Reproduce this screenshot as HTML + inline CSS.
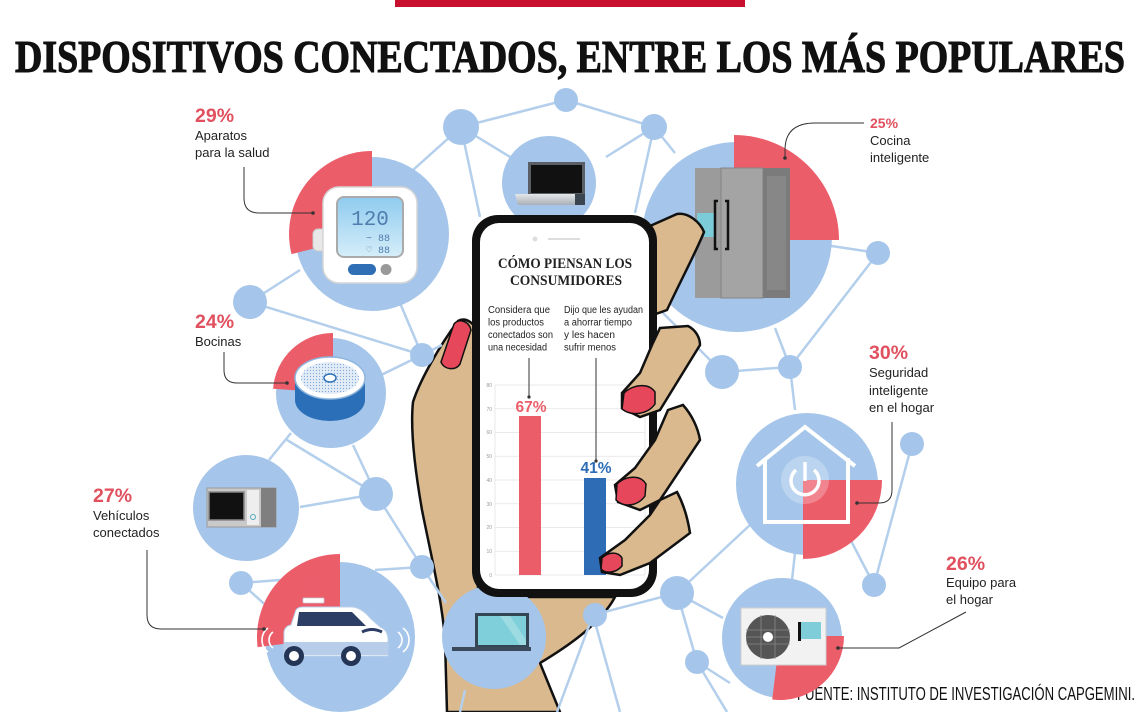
<!DOCTYPE html>
<html><head><meta charset="utf-8"><style>
html,body{margin:0;padding:0;background:#fff;}
svg{display:block;}
</style></head><body>
<svg width="1140" height="712" viewBox="0 0 1140 712" xmlns="http://www.w3.org/2000/svg">
<defs>
<pattern id="dots" width="3" height="3" patternUnits="userSpaceOnUse"><circle cx="1.5" cy="1.5" r="0.6" fill="#7ea7d6"/></pattern>
<linearGradient id="scr" x1="0" y1="0" x2="0" y2="1"><stop offset="0" stop-color="#8fcbef"/><stop offset="1" stop-color="#d6eef9"/></linearGradient>
<linearGradient id="base" x1="0" y1="0" x2="0" y2="1"><stop offset="0" stop-color="#e4e7ea"/><stop offset="1" stop-color="#a9afb5"/></linearGradient>
</defs>
<rect width="1140" height="712" fill="#fff"/>
<rect x="395" y="0" width="350" height="7" fill="#c8102e"/>
<text x="15" y="72" font-family="Liberation Serif, serif" font-weight="bold" font-size="46" textLength="1110" lengthAdjust="spacingAndGlyphs" fill="#111" stroke="#111" stroke-width="1.1">DISPOSITIVOS CONECTADOS, ENTRE LOS MÁS POPULARES</text>

<!-- source text (under AC circle) -->
<text x="797" y="700" font-family="Liberation Sans Narrow, Liberation Sans, sans-serif" font-size="18" textLength="338" lengthAdjust="spacingAndGlyphs" fill="#111">FUENTE: INSTITUTO DE INVESTIGACIÓN CAPGEMINI.</text>

<!-- palm + thumb -->
<path d="M447 712 L445 640 C442 600 432 560 422 510 C415 470 410 430 413 402 C420 380 440 345 458 321 C465 317 472 322 478 330 L478 597 L615 597 C600 625 565 648 540 663 L560 712 Z" fill="#d9b98d" stroke="#111" stroke-width="2.5"/>
<path d="M454 324 C459 318 469 321 471 330 L460 364 C456 371 444 370 441 362 Z" fill="#e6475a" stroke="#111" stroke-width="1.5"/>

<!-- network lines -->
<g stroke="#b4cfec" stroke-width="2.5" fill="none">
<line x1="461" y1="127" x2="566" y2="100"/>
<line x1="566" y1="100" x2="654" y2="127"/>
<line x1="461" y1="127" x2="413" y2="170"/>
<line x1="461" y1="127" x2="515" y2="160"/>
<line x1="461" y1="127" x2="480" y2="217"/>
<line x1="654" y1="127" x2="606" y2="157"/>
<line x1="654" y1="127" x2="635" y2="213"/>
<line x1="654" y1="127" x2="675" y2="153"/>
<line x1="250" y1="302" x2="300" y2="270"/>
<line x1="250" y1="302" x2="422" y2="355"/>
<line x1="422" y1="355" x2="400" y2="303"/>
<line x1="422" y1="355" x2="442" y2="345"/>
<line x1="422" y1="355" x2="375" y2="378"/>
<line x1="291" y1="433" x2="269" y2="460"/>
<line x1="287" y1="440" x2="376" y2="494"/>
<line x1="353" y1="445" x2="376" y2="494"/>
<line x1="300" y1="507" x2="376" y2="494"/>
<line x1="376" y1="494" x2="422" y2="567"/>
<line x1="375" y1="570" x2="422" y2="567"/>
<line x1="422" y1="567" x2="446" y2="603"/>
<line x1="241" y1="583" x2="280" y2="580"/>
<line x1="241" y1="583" x2="271" y2="610"/>
<line x1="465" y1="690" x2="460" y2="712"/>
<line x1="593" y1="615" x2="557" y2="712"/>
<line x1="593" y1="615" x2="620" y2="712"/>
<line x1="593" y1="615" x2="677" y2="593"/>
<line x1="677" y1="593" x2="697" y2="662"/>
<line x1="677" y1="593" x2="723" y2="618"/>
<line x1="697" y1="662" x2="730" y2="683"/>
<line x1="697" y1="662" x2="727" y2="712"/>
<line x1="750" y1="525" x2="677" y2="593"/>
<line x1="847" y1="533" x2="874" y2="585"/>
<line x1="912" y1="444" x2="874" y2="585"/>
<line x1="795" y1="553" x2="792" y2="580"/>
<line x1="790" y1="367" x2="795" y2="410"/>
<line x1="722" y1="372" x2="790" y2="367"/>
<line x1="790" y1="367" x2="878" y2="253"/>
<line x1="775" y1="328" x2="790" y2="367"/>
<line x1="825" y1="245" x2="878" y2="253"/>
<line x1="660" y1="310" x2="722" y2="372"/>
</g>

<!-- big circles -->
<g fill="#a5c6ea">
<circle cx="372" cy="234" r="77"/>
<circle cx="549" cy="183" r="47"/>
<circle cx="737" cy="237" r="95"/>
<circle cx="331" cy="393" r="55"/>
<circle cx="246" cy="508" r="53"/>
<circle cx="340" cy="637" r="75"/>
<circle cx="494" cy="637" r="52"/>
<circle cx="807" cy="484" r="71"/>
<circle cx="782" cy="638" r="60"/>
<!-- nodes -->
<circle cx="461" cy="127" r="18"/>
<circle cx="566" cy="100" r="12"/>
<circle cx="654" cy="127" r="13"/>
<circle cx="250" cy="302" r="17"/>
<circle cx="422" cy="355" r="12"/>
<circle cx="376" cy="494" r="17"/>
<circle cx="422" cy="567" r="12"/>
<circle cx="241" cy="583" r="12"/>
<circle cx="878" cy="253" r="12"/>
<circle cx="722" cy="372" r="17"/>
<circle cx="790" cy="367" r="12"/>
<circle cx="912" cy="444" r="12"/>
<circle cx="874" cy="585" r="12"/>
<circle cx="677" cy="593" r="17"/>
<circle cx="595" cy="615" r="12"/>
<circle cx="697" cy="662" r="12"/>
</g>

<!-- red sectors -->
<g fill="#ec5d6a">
<path d="M372 234 L291.5 254.1 A83 83 0 0 1 372 151 Z"/>
<path d="M734 240 L734 135 A105 105 0 0 1 839 240 Z"/>
<path d="M333 393 L273.1 388.8 A60 60 0 0 1 333 333 Z"/>
<path d="M340 637 L257.6 647.1 A83 83 0 0 1 340 554 Z"/>
<path d="M803 480 L882 480 A79 79 0 0 1 803 559 Z"/>
<path d="M780 636 L844 636 A64 64 0 0 1 772.2 699.5 Z"/>
</g>

<!-- BP monitor -->
<rect x="313" y="229" width="14" height="22" rx="5" fill="#e8e8e8" stroke="#ccc"/>
<rect x="323" y="187" width="94" height="96" rx="16" fill="#fff" stroke="#d5d5d5" stroke-width="1.5"/>
<rect x="337" y="197" width="66" height="60" rx="7" fill="url(#scr)" stroke="#aaa" stroke-width="2"/>
<text x="370" y="225" text-anchor="middle" font-family="Liberation Mono, monospace" font-size="21" fill="#4f7dae">120</text>
<text x="378" y="241" text-anchor="middle" font-family="Liberation Mono, monospace" font-size="10" fill="#4f7dae">~ 88</text>
<text x="378" y="253" text-anchor="middle" font-family="Liberation Mono, monospace" font-size="10" fill="#4f7dae">♡ 88</text>
<rect x="348" y="264" width="28" height="11" rx="5.5" fill="#2f6eb5"/>
<circle cx="386" cy="269.5" r="5.5" fill="#999"/>

<!-- laptop top -->
<rect x="528" y="162" width="57" height="33" fill="#5a5f66"/>
<rect x="531" y="165" width="51" height="28" fill="#111"/>
<polygon points="515,194 585,194 585,205 518,205" fill="url(#base)"/>
<rect x="575" y="194" width="10" height="11" fill="#3a4550"/>

<!-- fridge -->
<rect x="695" y="168" width="95" height="130" fill="#9b9b9b"/>
<rect x="721" y="168" width="42" height="130" fill="#a4a4a4" stroke="#858585" stroke-width="1"/>
<rect x="763" y="168" width="27" height="130" fill="#7b7b7b"/>
<rect x="767" y="176" width="19" height="114" fill="#878787"/>
<rect x="697" y="213" width="17" height="24" fill="#7ccbd8"/>
<path d="M718 201 L715 201 L715 249 L718 249 M725 201 L728 201 L728 249 L725 249" stroke="#111" stroke-width="2.5" fill="none"/>

<!-- speaker -->
<path d="M295 378 L295 400 A35 21 0 0 0 365 400 L365 378 Z" fill="#2a6fb8"/>
<ellipse cx="330" cy="378" rx="35" ry="21" fill="#fff" stroke="#8db5de" stroke-width="1.5"/>
<ellipse cx="330" cy="378" rx="29" ry="16" fill="#e2ecf7"/>
<ellipse cx="330" cy="378" rx="29" ry="16" fill="url(#dots)"/>
<ellipse cx="330" cy="378" rx="6" ry="4" fill="#fff" stroke="#2a6fb8" stroke-width="1.5"/>

<!-- microwave -->
<rect x="207" y="488" width="69" height="39" fill="#c9c9c9" stroke="#999"/>
<rect x="209" y="492" width="35" height="28" fill="#111" stroke="#888" stroke-width="1.5"/>
<rect x="247" y="490" width="12" height="35" fill="#eee"/>
<rect x="261" y="488" width="15" height="39" fill="#7f7f7f"/>
<circle cx="253" cy="517" r="2.5" fill="none" stroke="#5ab" stroke-width="1"/>

<!-- car -->
<g fill="none" stroke="#ec5d6a" stroke-width="1.6">
<path d="M308 596 A5 5 0 0 1 318 596"/><path d="M304 594 A9 9 0 0 1 322 594"/><path d="M300 592 A13 13 0 0 1 326 592"/>
</g>
<rect x="303" y="598" width="21" height="5" rx="1" fill="#fff" stroke="#ccd" stroke-width="0.8"/>
<path d="M284 650 L284 632 Q285 626 291 625 L296 610 Q298 607 303 607 L352 607 Q362 608 370 618 L380 627 Q388 630 388 640 L388 656 L284 656 Z" fill="#fff" stroke="#bcd0ea" stroke-width="1"/>
<polygon points="299,612 352,612 366,626 297,626" fill="#2c3e66"/>
<rect x="284" y="642" width="104" height="13" fill="#b7cdea"/>
<path d="M362 632 Q372 627 382 632" stroke="#2c3e66" stroke-width="3" fill="none"/>
<circle cx="294" cy="656" r="10" fill="#243556"/><circle cx="294" cy="656" r="5" fill="#fff"/>
<circle cx="351" cy="656" r="10" fill="#243556"/><circle cx="351" cy="656" r="5" fill="#fff"/>
<g fill="none" stroke="#fff" stroke-width="1.6">
<path d="M273 632 A10 10 0 0 0 273 648"/><path d="M268 628 A15 15 0 0 0 268 652"/>
<path d="M398 632 A10 10 0 0 1 398 648"/><path d="M403 628 A15 15 0 0 1 403 652"/>
</g>

<!-- laptop bottom -->
<rect x="475" y="613" width="54" height="34" fill="#344654"/>
<rect x="478" y="616" width="48" height="29" fill="#7ecfd9"/>
<polygon points="500,616 510,616 526,640 526,645 520,645" fill="#9ddbe3"/>
<rect x="452" y="647" width="79" height="4" fill="#3a4a5a"/>

<!-- security -->
<circle cx="805" cy="480" r="24" fill="#fff" opacity="0.25"/>
<path d="M757 466 L805 427 L855 466 M765 458 L765 522 L848 522 L848 458" stroke="#fff" stroke-width="4" fill="none"/>
<path d="M796 470 A14 14 0 1 0 814 470" stroke="#fff" stroke-width="3.5" fill="none"/>
<line x1="805" y1="462" x2="805" y2="481" stroke="#fff" stroke-width="3.5"/>

<!-- AC -->
<rect x="741" y="608" width="85" height="57" fill="#f2f2f2" stroke="#cfcfcf"/>
<circle cx="768" cy="637" r="22" fill="#555"/>
<g stroke="#888" stroke-width="0.8"><line x1="746" y1="630" x2="790" y2="630"/><line x1="746" y1="637" x2="790" y2="637"/><line x1="746" y1="644" x2="790" y2="644"/><line x1="761" y1="615" x2="761" y2="659"/><line x1="775" y1="615" x2="775" y2="659"/></g>
<circle cx="768" cy="637" r="5" fill="#fff"/>
<rect x="798" y="622" width="23" height="17" fill="#7fcdd8"/>
<rect x="798" y="622" width="3" height="19" fill="#111"/>

<!-- index finger (behind phone) -->
<path d="M650 226 L677 214 C688 212 700 222 704 232 C697 250 680 282 667 310 L650 316 Z" fill="#d9b98d" stroke="#111" stroke-width="2.5"/>

<!-- phone -->
<rect x="472" y="215" width="185" height="382" rx="26" fill="#111"/>
<rect x="480" y="223" width="169" height="366" rx="19" fill="#fff"/>
<circle cx="535" cy="239" r="2.5" fill="#ddd"/>
<line x1="548" y1="239" x2="580" y2="239" stroke="#ddd" stroke-width="2"/>
<text x="565" y="268" text-anchor="middle" font-family="Liberation Serif, serif" font-weight="bold" font-size="14.5" textLength="134" lengthAdjust="spacingAndGlyphs" fill="#222">CÓMO PIENSAN LOS</text>
<text x="566" y="285" text-anchor="middle" font-family="Liberation Serif, serif" font-weight="bold" font-size="14.5" textLength="112" lengthAdjust="spacingAndGlyphs" fill="#222">CONSUMIDORES</text>
<g font-family="Liberation Sans, sans-serif" font-size="10" fill="#222">
<text x="488" y="313" textLength="62" lengthAdjust="spacingAndGlyphs">Considera que</text>
<text x="488" y="325.5" textLength="56" lengthAdjust="spacingAndGlyphs">los productos</text>
<text x="488" y="338" textLength="65" lengthAdjust="spacingAndGlyphs">conectados son</text>
<text x="488" y="350.5" textLength="59" lengthAdjust="spacingAndGlyphs">una necesidad</text>
<text x="564" y="313" textLength="79" lengthAdjust="spacingAndGlyphs">Dijo que les ayudan</text>
<text x="564" y="325.5" textLength="68" lengthAdjust="spacingAndGlyphs">a ahorrar tiempo</text>
<text x="564" y="338" textLength="51" lengthAdjust="spacingAndGlyphs">y les hacen</text>
<text x="564" y="350.5" textLength="52" lengthAdjust="spacingAndGlyphs">sufrir menos</text>
</g>
<g stroke="#e3e3e3" stroke-width="0.8">
<line x1="495" y1="385" x2="645" y2="385"/><line x1="495" y1="408.75" x2="645" y2="408.75"/><line x1="495" y1="432.5" x2="645" y2="432.5"/><line x1="495" y1="456.25" x2="645" y2="456.25"/><line x1="495" y1="480" x2="645" y2="480"/><line x1="495" y1="503.75" x2="645" y2="503.75"/><line x1="495" y1="527.5" x2="645" y2="527.5"/><line x1="495" y1="551.25" x2="645" y2="551.25"/><line x1="495" y1="575" x2="645" y2="575"/>
<line x1="495" y1="385" x2="495" y2="575"/><line x1="645" y1="385" x2="645" y2="575"/>
</g>
<g font-family="Liberation Sans, sans-serif" font-size="5" fill="#999" text-anchor="end">
<text x="492" y="387">80</text><text x="492" y="411">70</text><text x="492" y="434">60</text><text x="492" y="458">50</text><text x="492" y="482">40</text><text x="492" y="506">30</text><text x="492" y="529">20</text><text x="492" y="553">10</text><text x="492" y="577">0</text>
</g>
<rect x="519" y="416" width="22" height="159" fill="#ec5d6a"/>
<rect x="584" y="478" width="22" height="97" fill="#2e6db5"/>
<line x1="529" y1="358" x2="529" y2="397" stroke="#333" stroke-width="1"/><circle cx="529" cy="397" r="1.6" fill="#333"/>
<line x1="596" y1="358" x2="596" y2="461" stroke="#333" stroke-width="1"/><circle cx="596" cy="461" r="1.6" fill="#333"/>
<text x="531" y="412" text-anchor="middle" font-family="Liberation Sans, sans-serif" font-weight="bold" font-size="15.5" fill="#ec5d6a">67%</text>
<text x="596" y="473" text-anchor="middle" font-family="Liberation Sans, sans-serif" font-weight="bold" font-size="15.5" fill="#2e6db5">41%</text>

<!-- fingers over phone -->
<g fill="#d9b98d" stroke="#111" stroke-width="2.5">
<path d="M660 328 L688 326 C696 330 700 338 700 345 L660 410 L640 417 L622 408 L622 393 L640 373 L652 345 Z"/>
<path d="M668 410 L683 405 C692 415 698 428 700 440 L660 500 L640 510 L618 502 L615 485 L635 468 L655 440 Z"/>
<path d="M660 500 L677 492 C684 505 688 520 690 533 L650 563 L620 575 L602 572 L600 558 L625 540 L650 515 Z"/>
</g>
<g fill="#e6475a" stroke="#111" stroke-width="1.5">
<path d="M624 393 C632 385 648 382 655 392 L655 404 C648 414 632 417 622 409 Z"/>
<path d="M617 484 C625 476 640 474 646 484 L645 496 C638 506 624 508 616 500 Z"/>
<path d="M602 558 C608 552 618 551 622 558 L622 566 C616 573 606 574 601 569 Z"/>
</g>

<!-- leader lines -->
<g stroke="#333" stroke-width="1" fill="none">
<path d="M244 167 L244 198 Q244 213 259 213 L313 213"/>
<path d="M224 352 L224 370 Q224 383 237 383 L287 383"/>
<path d="M147 550 L147 615 Q147 629 161 629 L264 629"/>
<path d="M864 123 L815 123 Q785 123 785 150 L785 158"/>
<path d="M892 422 L892 490 Q892 503 879 503 L857 503"/>
<path d="M966 612 L899 648 L838 648"/>
</g>
<g fill="#333">
<circle cx="313" cy="213" r="1.8"/><circle cx="287" cy="383" r="1.8"/><circle cx="264" cy="629" r="1.8"/><circle cx="785" cy="158" r="1.8"/><circle cx="857" cy="503" r="1.8"/><circle cx="838" cy="648" r="1.8"/>
</g>

<!-- labels -->
<g font-family="Liberation Sans, sans-serif" font-weight="bold" fill="#e0505e">
<text x="195" y="122" font-size="19.5">29%</text>
<text x="195" y="328" font-size="19.5">24%</text>
<text x="93" y="502" font-size="19.5">27%</text>
<text x="870" y="128" font-size="14">25%</text>
<text x="869" y="359" font-size="19.5">30%</text>
<text x="946" y="570" font-size="19.5">26%</text>
</g>
<g font-family="Liberation Sans, sans-serif" font-size="13" fill="#222">
<text x="195" y="140">Aparatos</text>
<text x="195" y="157">para la salud</text>
<text x="195" y="346">Bocinas</text>
<text x="93" y="520">Vehículos</text>
<text x="93" y="537">conectados</text>
<text x="870" y="145">Cocina</text>
<text x="870" y="162">inteligente</text>
<text x="869" y="377">Seguridad</text>
<text x="869" y="395">inteligente</text>
<text x="869" y="412">en el hogar</text>
<text x="946" y="587">Equipo para</text>
<text x="946" y="604">el hogar</text>
</g>
</svg>
</body></html>
